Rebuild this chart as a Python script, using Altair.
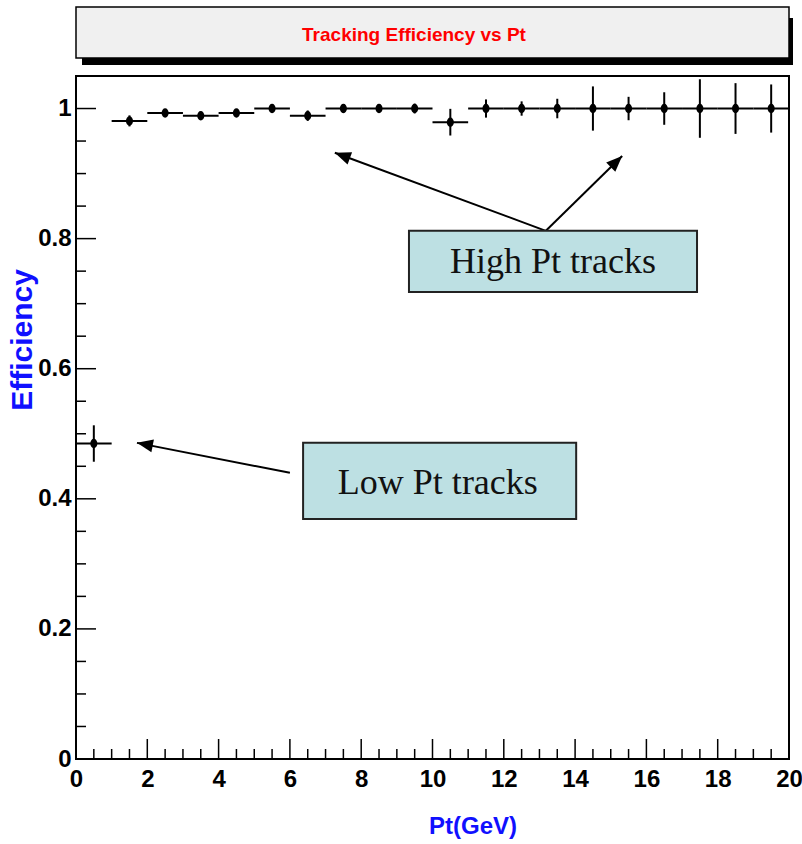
import math
import altair as alt
import pandas as pd

# Tracking efficiency per 1 GeV Pt bin (bin centres, value, symmetric error)
pt_centers = [0.5, 1.5, 2.5, 3.5, 4.5, 5.5, 6.5, 7.5, 8.5, 9.5,
              10.5, 11.5, 12.5, 13.5, 14.5, 15.5, 16.5, 17.5, 18.5, 19.5]
efficiency = [0.485, 0.981, 0.993, 0.989, 0.993, 1.0, 0.989, 1.0, 1.0, 1.0,
              0.979, 1.0, 1.0, 1.0, 1.0, 1.0, 1.0, 1.0, 1.0, 1.0]
eff_error = [0.028, 0.0085, 0.006, 0.006, 0.006, 0.006, 0.008, 0.0065, 0.006, 0.0075,
             0.0205, 0.014, 0.011, 0.015, 0.034, 0.018, 0.025, 0.045, 0.039, 0.037]
bin_half_width = 0.5

# Axis tick positions
x_major = [0, 2, 4, 6, 8, 10, 12, 14, 16, 18, 20]
x_minor = [0.5, 1, 1.5, 2.5, 3, 3.5, 4.5, 5, 5.5, 6.5, 7, 7.5, 8.5, 9, 9.5,
           10.5, 11, 11.5, 12.5, 13, 13.5, 14.5, 15, 15.5, 16.5, 17, 17.5, 18.5, 19, 19.5]
y_major = [0, 0.2, 0.4, 0.6, 0.8, 1.0]
y_minor = [0.05, 0.1, 0.15, 0.25, 0.3, 0.35, 0.45, 0.5, 0.55, 0.65, 0.7, 0.75,
           0.85, 0.9, 0.95]

# Annotation boxes and arrows (in data units)
note_text = ["High Pt tracks", "Low Pt tracks"]
note_x1 = [9.34, 6.37]
note_x2 = [17.42, 14.03]
note_y1 = [0.812, 0.486]
note_y2 = [0.718, 0.369]
note_tx = [13.38, 10.15]
note_ty = [0.747, 0.407]
arrow_from_x = [13.18, 13.18, 6.00]
arrow_from_y = [0.812, 0.812, 0.440]
arrow_to_x = [7.26, 15.32, 1.71]
arrow_to_y = [0.932, 0.927, 0.486]

W, H = 713, 683
X_MAX, Y_MAX = 20, 1.05
PX_X, PX_Y = W / X_MAX, H / Y_MAX

SANS = "Liberation Sans, Arial, Helvetica"
SERIF = "Liberation Serif, Times New Roman, serif"

df = pd.DataFrame({"pt": pt_centers, "eff": efficiency, "err": eff_error})
df["lo"] = df["pt"] - bin_half_width
df["hi"] = df["pt"] + bin_half_width
df["ylo"] = df["eff"] - df["err"]
df["yhi"] = df["eff"] + df["err"]

xs = alt.Scale(domain=[0, X_MAX], nice=False, zero=False)
ys = alt.Scale(domain=[0, Y_MAX], nice=False, zero=False)

x_axis = alt.Axis(values=x_major, ticks=False, domain=False, grid=False, title=None,
                  labelFont=SANS, labelFontSize=24, labelFontWeight="bold",
                  labelColor="black", labelPadding=8, labelFlush=False,
                  labelOverlap=False, labelBound=False)
y_axis = alt.Axis(values=y_major, ticks=False, domain=False, grid=False, title=None,
                  format="~g", labelFont=SANS, labelFontSize=24,
                  labelFontWeight="bold", labelColor="black", labelPadding=5,
                  labelFlush=False, labelOverlap=False, labelBound=False)


def X(field):
    return alt.X(field, scale=xs, axis=x_axis)


def Y(field):
    return alt.Y(field, scale=ys, axis=y_axis)


base = alt.Chart(df)

# Horizontal bin-width bars and vertical error bars
xbars = base.mark_rule(color="black", strokeWidth=2).encode(
    x=X("lo:Q"), x2="hi:Q", y=Y("eff:Q"))
ybars = base.mark_rule(color="black", strokeWidth=2).encode(
    x=X("pt:Q"), y=Y("ylo:Q"), y2="yhi:Q")

# Filled elliptical markers
ellipse = "M-0.75,0A0.75,1 0 1,0 0.75,0A0.75,1 0 1,0 -0.75,0Z"
points = base.mark_point(shape=ellipse, filled=True, color="black", opacity=1,
                         size=90).encode(x=X("pt:Q"), y=Y("eff:Q"))


# Inward-pointing tick marks
def x_ticks(vals, length):
    return alt.Chart(pd.DataFrame({"v": vals})).mark_rule(
        color="black", strokeWidth=1.5).encode(
        x=X("v:Q"), y=alt.value(H), y2=alt.value(H - length))


def y_ticks(vals, length):
    return alt.Chart(pd.DataFrame({"v": vals})).mark_rule(
        color="black", strokeWidth=1.5).encode(
        y=Y("v:Q"), x=alt.value(0), x2=alt.value(length))


# Title box with drop shadow
title_df = pd.DataFrame({"t": ["Tracking Efficiency vs Pt"]})
title_shadow = alt.Chart(title_df).mark_rect(fill="black").encode(
    x=alt.value(6), x2=alt.value(717), y=alt.value(-58), y2=alt.value(-11))
title_box = alt.Chart(title_df).mark_rect(
    fill="#f0f0f0", stroke="black", strokeWidth=1.5).encode(
    x=alt.value(0), x2=alt.value(W), y=alt.value(-69), y2=alt.value(-18))
title_text = alt.Chart(title_df).mark_text(
    font=SANS, fontSize=19, fontWeight="bold", color="#ff0000",
    align="center", baseline="middle").encode(
    x=alt.value(338), y=alt.value(-41), text="t:N")

# Axis titles
ytitle = alt.Chart(pd.DataFrame({"t": ["Efficiency"]})).mark_text(
    font=SANS, fontSize=30, fontWeight="bold", color="#1010ff", angle=270,
    align="center", baseline="middle").encode(
    x=alt.value(-53), y=alt.value(264), text="t:N")
xtitle = alt.Chart(pd.DataFrame({"t": ["Pt(GeV)"]})).mark_text(
    font=SANS, fontSize=24, fontWeight="bold", color="#1010ff",
    align="center", baseline="middle").encode(
    x=alt.value(397), y=alt.value(751), text="t:N")

# Annotation boxes, labels and arrows
notes = pd.DataFrame({"text": note_text, "x1": note_x1, "x2": note_x2,
                      "y1": note_y1, "y2": note_y2, "tx": note_tx, "ty": note_ty})
note_boxes = alt.Chart(notes).mark_rect(
    fill="#bde0e3", stroke="#222222", strokeWidth=2).encode(
    x=X("x1:Q"), x2="x2:Q", y=Y("y1:Q"), y2="y2:Q")
note_labels = alt.Chart(notes).mark_text(
    font=SERIF, fontSize=36, color="#111111", align="center",
    baseline="alphabetic").encode(x=X("tx:Q"), y=Y("ty:Q"), text="text:N")

arrows = pd.DataFrame({"x0": arrow_from_x, "y0": arrow_from_y,
                       "x1": arrow_to_x, "y1": arrow_to_y})
arrows["angle"] = [
    math.degrees(math.atan2((b - a) * PX_X, (d - c) * PX_Y)) % 360
    for a, b, c, d in zip(arrows.x0, arrows.x1, arrows.y0, arrows.y1)
]
arrow_lines = alt.Chart(arrows).mark_rule(color="black", strokeWidth=2).encode(
    x=X("x0:Q"), x2="x1:Q", y=Y("y0:Q"), y2="y1:Q")
head = "M0,0L-0.5,1.23L0.5,1.23Z"
arrow_heads = alt.Chart(arrows).mark_point(
    shape=head, filled=True, color="black", opacity=1, size=676).encode(
    x=X("x1:Q"), y=Y("y1:Q"), angle=alt.Angle("angle:Q", scale=None))

chart = alt.layer(
    title_shadow, title_box, title_text,
    x_ticks(x_major, 20), x_ticks(x_minor, 10),
    y_ticks(y_major, 20), y_ticks(y_minor, 10),
    xbars, ybars, points,
    arrow_lines, arrow_heads, note_boxes, note_labels,
    ytitle, xtitle,
).properties(
    width=W, height=H,
    padding={"left": 76, "top": 76, "right": 13, "bottom": 85},
    autosize=alt.AutoSizeParams(type="none"),
    background="white",
).configure_view(stroke="black", strokeWidth=2)

chart.save("out.html", embed_options={"renderer": "svg", "actions": False})
